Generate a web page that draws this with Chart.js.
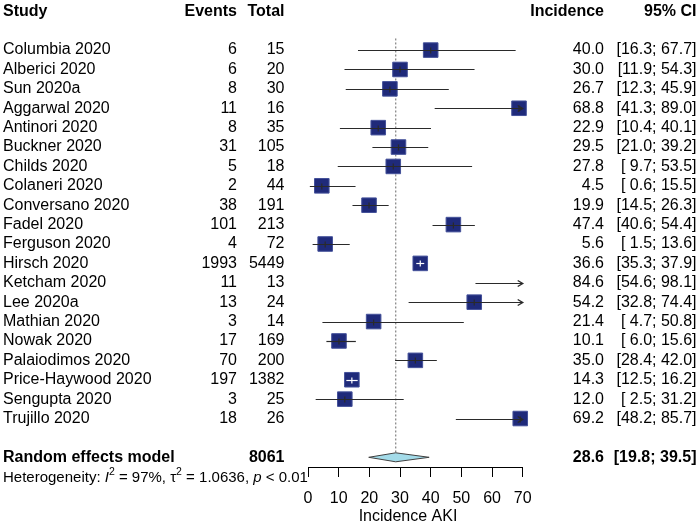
<!DOCTYPE html>
<html>
<head>
<meta charset="utf-8">
<script src="https://cdn.jsdelivr.net/npm/chart.js@4.4.1/dist/chart.umd.min.js"></script>
<style>
  html, body { margin: 0; padding: 0; background: #fff; }
</style>
</head>
<body>
<canvas id="forest" width="700" height="524"></canvas>
<script>
const studies = [
  'Columbia 2020', 'Alberici 2020', 'Sun 2020a', 'Aggarwal 2020', 'Antinori 2020',
  'Buckner 2020', 'Childs 2020', 'Colaneri 2020', 'Conversano 2020', 'Fadel 2020',
  'Ferguson 2020', 'Hirsch 2020', 'Ketcham 2020', 'Lee 2020a', 'Mathian 2020',
  'Nowak 2020', 'Palaiodimos 2020', 'Price-Haywood 2020', 'Sengupta 2020', 'Trujillo 2020'
];
const events = [6, 6, 8, 11, 8, 31, 5, 2, 38, 101, 4, 1993, 11, 13, 3, 17, 70, 197, 3, 18];
const totals = [15, 20, 30, 16, 35, 105, 18, 44, 191, 213, 72, 5449, 13, 24, 14, 169, 200, 1382, 25, 26];
const incidence = [40.0, 30.0, 26.7, 68.8, 22.9, 29.5, 27.8, 4.5, 19.9, 47.4, 5.6, 36.6, 84.6, 54.2, 21.4, 10.1, 35.0, 14.3, 12.0, 69.2];
const ciLower = [16.3, 11.9, 12.3, 41.3, 10.4, 21.0, 9.7, 0.6, 14.5, 40.6, 1.5, 35.3, 54.6, 32.8, 4.7, 6.0, 28.4, 12.5, 2.5, 48.2];
const ciUpper = [67.7, 54.3, 45.9, 89.0, 40.1, 39.2, 53.5, 15.5, 26.3, 54.4, 13.6, 37.9, 98.1, 74.4, 50.8, 15.6, 42.0, 16.2, 31.2, 85.7];

const pooledTotal = 8061;
const pooledEstimate = [28.6, 19.8, 39.5]; // estimate, lower, upper
const xTicks = [0, 10, 20, 30, 40, 50, 60, 70];
const xMin = 0, xMax = 70;

const FONT = '"Liberation Sans", Arial, sans-serif';
const BOX_R = 10.3;
const firstRow = 2;
const pooledRow = firstRow + studies.length + 1;

const fmt = v => (v < 10 ? ' ' : '') + v.toFixed(1);
const ciText = (lo, hi) => '[' + fmt(lo) + '; ' + hi.toFixed(1) + ']';

const boxes = incidence
  .map((v, i) => ({ x: v, y: firstRow + i }))
  .filter(p => p.x >= xMin && p.x <= xMax);

const forestPlugin = {
  id: 'forest',
  beforeDatasetsDraw(chart) {
    const { ctx, scales: { x, y } } = chart;
    ctx.save();
    // reference line at pooled estimate
    ctx.strokeStyle = '#808080';
    ctx.lineWidth = 1.2;
    ctx.setLineDash([2, 2]);
    const px = x.getPixelForValue(pooledEstimate[0]);
    ctx.beginPath();
    ctx.moveTo(px, y.getPixelForValue(1.4));
    ctx.lineTo(px, y.getPixelForValue(pooledRow));
    ctx.stroke();
    ctx.setLineDash([]);

    // pooled diamond
    const py = y.getPixelForValue(pooledRow);
    ctx.beginPath();
    ctx.moveTo(x.getPixelForValue(pooledEstimate[1]), py);
    ctx.lineTo(px, py - 4.5);
    ctx.lineTo(x.getPixelForValue(pooledEstimate[2]), py);
    ctx.lineTo(px, py + 4.5);
    ctx.closePath();
    ctx.fillStyle = '#a3dbe9';
    ctx.fill();
    ctx.strokeStyle = '#404040';
    ctx.lineWidth = 1;
    ctx.stroke();
    ctx.restore();
  },
  afterDatasetsDraw(chart) {
    const { ctx, scales: { x, y } } = chart;
    const side = BOX_R * Math.SQRT2;
    ctx.save();
    incidence.forEach((est, i) => {
      const yy = Math.round(y.getPixelForValue(firstRow + i)) + 0.5;
      const lo = Math.max(ciLower[i], xMin);
      const hi = Math.min(ciUpper[i], xMax);
      const x1 = x.getPixelForValue(lo);
      const x2 = x.getPixelForValue(hi);
      const inBox = (x2 - x1) < side && est >= xMin && est <= xMax;
      ctx.strokeStyle = inBox ? '#ffffff' : '#2a2a2a';
      ctx.lineWidth = 1.2;
      ctx.beginPath();
      ctx.moveTo(x1, yy);
      ctx.lineTo(x2, yy);
      ctx.stroke();
      if (est >= xMin && est <= xMax) {
        const ex = x.getPixelForValue(est);
        ctx.beginPath();
        ctx.moveTo(ex, yy - 3);
        ctx.lineTo(ex, yy + 3);
        ctx.stroke();
      }
      if (ciUpper[i] > xMax) {
        ctx.beginPath();
        ctx.moveTo(x2 - 5, yy - 3);
        ctx.lineTo(x2, yy);
        ctx.lineTo(x2 - 5, yy + 3);
        ctx.lineWidth = 1.4;
        ctx.stroke();
      }
      if (ciLower[i] < xMin) {
        ctx.beginPath();
        ctx.moveTo(x1 + 5, yy - 3);
        ctx.lineTo(x1, yy);
        ctx.lineTo(x1 + 5, yy + 3);
        ctx.stroke();
      }
    });
    ctx.restore();
  },
  afterDraw(chart) {
    const { ctx, scales: { x, y } } = chart;
    ctx.save();
    ctx.fillStyle = '#000';
    ctx.textBaseline = 'middle';
    const cols = { study: 3, events: 237, total: 284.5, inc: 604, ci: 696.5 };
    const put = (txt, px, py, align, bold) => {
      ctx.font = (bold ? 'bold ' : '') + '16px ' + FONT;
      ctx.textAlign = align;
      ctx.fillText(txt, px, py);
    };

    // header
    const hy = y.getPixelForValue(0);
    put('Study', cols.study, hy, 'left', true);
    put('Events', cols.events, hy, 'right', true);
    put('Total', cols.total, hy, 'right', true);
    put('Incidence', cols.inc, hy, 'right', true);
    put('95% CI', cols.ci, hy, 'right', true);

    studies.forEach((s, i) => {
      const ry = y.getPixelForValue(firstRow + i);
      put(s, cols.study, ry, 'left', false);
      put(String(events[i]), cols.events, ry, 'right', false);
      put(String(totals[i]), cols.total, ry, 'right', false);
      put(incidence[i].toFixed(1), cols.inc, ry, 'right', false);
      put(ciText(ciLower[i], ciUpper[i]), cols.ci, ry, 'right', false);
    });

    const py = y.getPixelForValue(pooledRow);
    put('Random effects model', cols.study, py, 'left', true);
    put(String(pooledTotal), cols.total, py, 'right', true);
    put(pooledEstimate[0].toFixed(1), cols.inc, py, 'right', true);
    put(ciText(pooledEstimate[1], pooledEstimate[2]), cols.ci, py, 'right', true);

    // heterogeneity line
    const hety = y.getPixelForValue(pooledRow + 1) + 1;
    let cx = cols.study;
    ctx.textAlign = 'left';
    const seg = (txt, style, sup) => {
      ctx.font = style + (sup ? '10.5px ' : '15px ') + FONT;
      ctx.fillText(txt, cx, sup ? hety - 5.5 : hety);
      cx += ctx.measureText(txt).width;
    };
    seg('Heterogeneity: ', '', false);
    seg('I', 'italic ', false);
    seg('2', '', true);
    seg(' = 97%, ', '', false);
    seg('\u03C4', '', false);
    seg('2', '', true);
    seg(' = 1.0636, ', '', false);
    seg('p', 'italic ', false);
    seg(' < 0.01', '', false);

    // axis title
    ctx.font = '16px ' + FONT;
    ctx.textAlign = 'center';
    ctx.fillText('Incidence AKI', 408, 516.5);
    ctx.restore();
  }
};

new Chart(document.getElementById('forest'), {
  type: 'scatter',
  data: {
    datasets: [{
      data: boxes,
      pointStyle: 'rect',
      pointRadius: BOX_R,
      pointHoverRadius: BOX_R,
      backgroundColor: '#1f2a7a',
      borderColor: '#44519a',
      borderWidth: 1,
      clip: false
    }]
  },
  options: {
    responsive: false,
    animation: false,
    events: [],
    layout: { padding: { left: 308, right: 177.3, top: 9, bottom: 0 } },
    plugins: { legend: { display: false }, tooltip: { enabled: false } },
    scales: {
      x: {
        type: 'linear',
        min: xMin,
        max: xMax,
        afterFit: s => { s.height = 57; },
        afterBuildTicks: s => { s.ticks = xTicks.map(v => ({ value: v })); },
        grid: { drawOnChartArea: false, drawTicks: true, tickLength: 10, color: '#000', lineWidth: 1 },
        border: { display: true, color: '#000', width: 1 },
        ticks: { color: '#000', font: { family: FONT, size: 16 }, padding: 12, maxRotation: 0, autoSkip: false }
      },
      y: {
        type: 'linear',
        display: false,
        reverse: true,
        min: 0,
        max: pooledRow + 0.5
      }
    }
  },
  plugins: [forestPlugin]
});
</script>
</body>
</html>
